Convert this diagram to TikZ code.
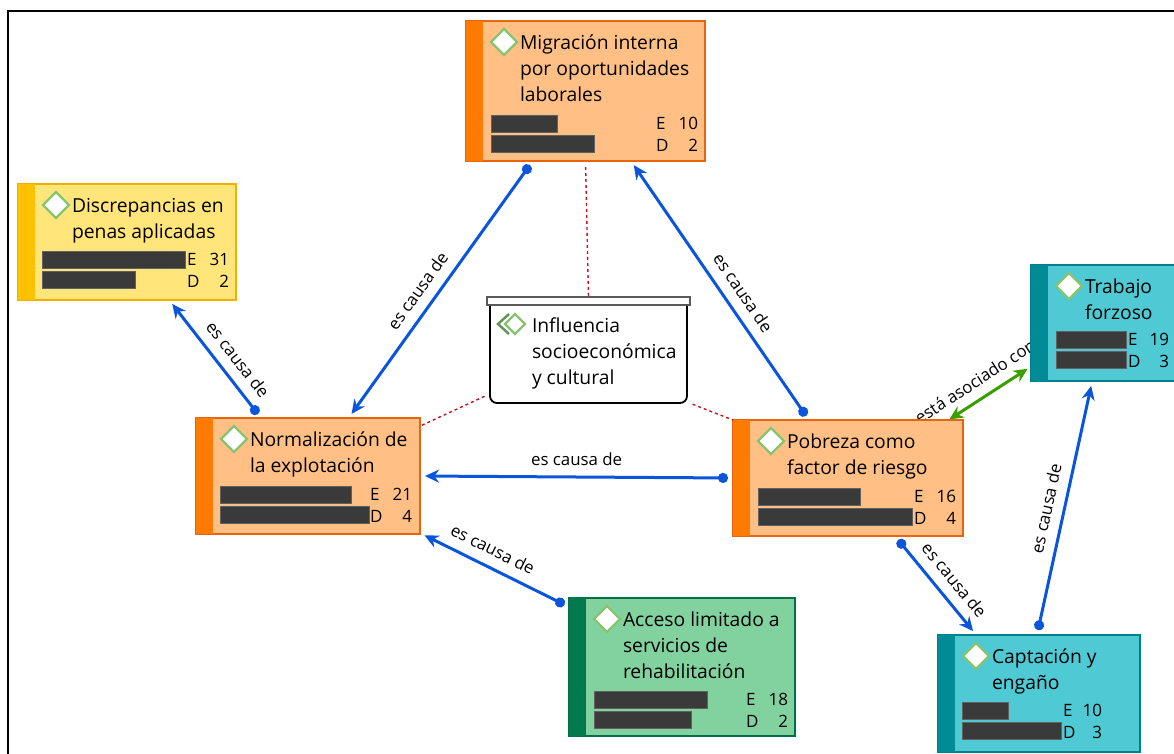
\documentclass[tikz,border=0pt]{standalone}
\usepackage{fontspec}
\usepackage{tikz}
\usetikzlibrary{arrows.meta,shapes.geometric,backgrounds}
\setmainfont{Open Sans}
\definecolor{naranja}{HTML}{FFBF85}
\definecolor{naranjaborde}{HTML}{E8640F}
\definecolor{naranjabanda}{HTML}{FF7A00}
\definecolor{amarillo}{HTML}{FFE57A}
\definecolor{amarilloborde}{HTML}{EFB000}
\definecolor{amarillobanda}{HTML}{FFC000}
\definecolor{verde}{HTML}{82D29F}
\definecolor{verdeborde}{HTML}{00704A}
\definecolor{verdebanda}{HTML}{007A4C}
\definecolor{turquesa}{HTML}{4FCAD5}
\definecolor{turquesaborde}{HTML}{007F8C}
\definecolor{turquesabanda}{HTML}{008B96}
\definecolor{azulcausa}{HTML}{0A55DC}
\definecolor{verdeasoc}{HTML}{3A9E00}
\definecolor{rojopunto}{HTML}{C8141E}
\definecolor{barra}{HTML}{3A3A3A}
\definecolor{rombo}{HTML}{86C46F}
\tikzset{
	caja/.style={rectangle, inner sep=0, outer sep=0, line width=1.3pt},
	icono/.style={diamond, draw=rombo, fill=white, line width=2.2pt, inner sep=0, outer sep=0, minimum width=26pt, minimum height=26pt},
	titulo/.style={anchor=north west, inner sep=0, outer sep=0, align=left, font=\fontsize{19.3}{26}\selectfont},
	cifra/.style={inner sep=0, outer sep=0, font=\fontsize{17}{20}\selectfont},
	relleno/.style={barra, draw=barra!80!white, line width=.6pt},
	causa/.style={azulcausa, line width=3pt, shorten <=5pt, shorten >=5pt, {Circle[length=10pt]}-{Stealth[length=14pt,width=13pt]}},
	asociado/.style={verdeasoc, line width=3pt, shorten <=1pt, shorten >=4pt, {Stealth[length=14pt,width=13pt]}-{Stealth[length=14pt,width=13pt]}},
	enlace/.style={rojopunto, line width=1.4pt, dash pattern=on 3pt off 3pt},
	rotulo/.style={black, font=\fontsize{16.8}{18}\selectfont, inner sep=10pt, sloped, above},
}
% caja: nombre, x1, y1, x2, y2, color, titulo
\newcommand{\cuadro}[7]{
	\node[caja, draw=#6borde, fill=#6, minimum width={(#4-#2)*1pt}, minimum height={(#5-#3)*1pt}] (#1) at ({(#2+#4)/2},{(#3+#5)/2}) {};
	\fill[#6banda] (#1.north west) rectangle ([xshift=17pt]#1.south west);
	\node[icono] (#1rombo) at ([shift={(38pt,-21pt)}]#1.north west) {};
	\node[titulo] (#1titulo) at ([shift={(16pt,7pt)}]#1rombo.center) {#7};
}
% barras: nombre, x barra, y barra, fin E, fin D, x letra, x cifra, E, D
\newcommand{\barras}[9]{
	\fill[relleno] (#2,#3) rectangle (#4,#3+17);
	\fill[relleno] (#2,#3+20.5) rectangle (#5,#3+37.5);
	\node[cifra, anchor=west] (#1e) at (#6,#3+8.5) {E};
	\node[cifra, anchor=west] (#1d) at (#6,#3+30) {D};
	\node[cifra, anchor=east] (#1ne) at (#7,#3+8.5) {#8};
	\node[cifra, anchor=east] (#1nd) at (#7,#3+30) {#9};
}
\begin{document}
\begin{tikzpicture}[x=1pt,y=-1pt]
	\useasboundingbox (0,0) rectangle (1174,754);
	\draw[line width=2pt] (8,754) -- (8,11.5) -- (1174,11.5);

	\cuadro{migracion}{466}{21}{705}{161}{naranja}{Migración interna\\por oportunidades\\laborales}
	\barras{migracion}{491}{115}{557}{594}{656}{698}{10}{2}
	\cuadro{discrepancias}{18}{184}{236}{300}{amarillo}{Discrepancias en\\penas aplicadas}
	\barras{discrepancias}{42}{251}{185}{135}{187}{229}{31}{2}
	\cuadro{normalizacion}{196}{418}{420}{534}{naranja}{Normalización de\\la explotación}
	\barras{normalizacion}{220}{486}{351}{369}{370}{412}{21}{4}
	\cuadro{pobreza}{733}{420}{963}{536}{naranja}{Pobreza como\\factor de riesgo}
	\barras{pobreza}{758}{488}{860}{912}{914}{956}{16}{4}
	\cuadro{trabajo}{1031}{265}{1176}{381}{turquesa}{Trabajo\\forzoso}
	\barras{trabajo}{1056}{331}{1126}{1126}{1128}{1169}{19}{3}
	\cuadro{acceso}{569}{598}{795}{736}{verde}{Acceso limitado a\\servicios de\\rehabilitación}
	\barras{acceso}{594}{691}{707}{691}{746}{788}{18}{2}
	\cuadro{captacion}{938}{635}{1140}{752}{turquesa}{Captación y\\engaño}
	\barras{captacion}{962}{702}{1008}{1061}{1063}{1102}{10}{3}

	% grupo del centro
	\node[rectangle, inner sep=0, outer sep=0, minimum width=197pt, minimum height=98pt] (influencia) at (588.5,354) {};
	\draw[line width=1.8pt, rounded corners=7pt] (influencia.north west) -- (influencia.south west) -- (influencia.south east) -- (influencia.north east);
	\node[rectangle, draw=black!65, fill=white, line width=1.5pt, inner sep=0, outer sep=0, minimum width=203pt, minimum height=8pt] (tapa) at (588.5,301) {};
	\draw[rombo!75!black, line width=2.4pt] (509,314) -- (498,324) -- (509,334);
	\node[icono, fill=none, minimum width=20pt, minimum height=20pt] (influenciarombo) at (515,324) {};
	\node[titulo] (influenciatitulo) at (532,318) {Influencia\\socioeconómica\\y cultural};

	\draw[enlace, shorten <=6pt] (migracion.south) -- (tapa.north);
	\draw[enlace, shorten <=6pt] (influencia.202) -- (normalizacion.24.5);
	\draw[enlace, shorten <=6pt] (influencia.334.5) -- (pobreza.north west);

	\draw[causa] (migracion.233.9) -- node[rotulo, pos=.546] {es causa de} (normalizacion.55.1);
	\draw[causa] (pobreza.124.6) -- node[rotulo, pos=.452] {es causa de} (migracion.303.4);
	\draw[causa] (normalizacion.129) -- node[rotulo, pos=.405] {es causa de} (discrepancias.306.6);
	\draw[causa] (pobreza.west) -- node[rotulo, pos=.5] {es causa de} (normalizacion.east);
	\draw[causa] (acceso.152.7) -- node[rotulo, pos=.565] {es causa de} (normalizacion.333.7);
	\draw[causa] (pobreza.309.4) -- node[rotulo, pos=.56] {es causa de} (captacion.137);
	\draw[causa] (captacion.92.3) -- node[rotulo, pos=.483] {es causa de} (trabajo.259.5);
	\begin{pgfonlayer}{background}
		\draw[asociado] (pobreza.30.4) -- node[rotulo, pos=.44] {está asociado con} (trabajo.211.1);
	\end{pgfonlayer}
\end{tikzpicture}
\end{document}
